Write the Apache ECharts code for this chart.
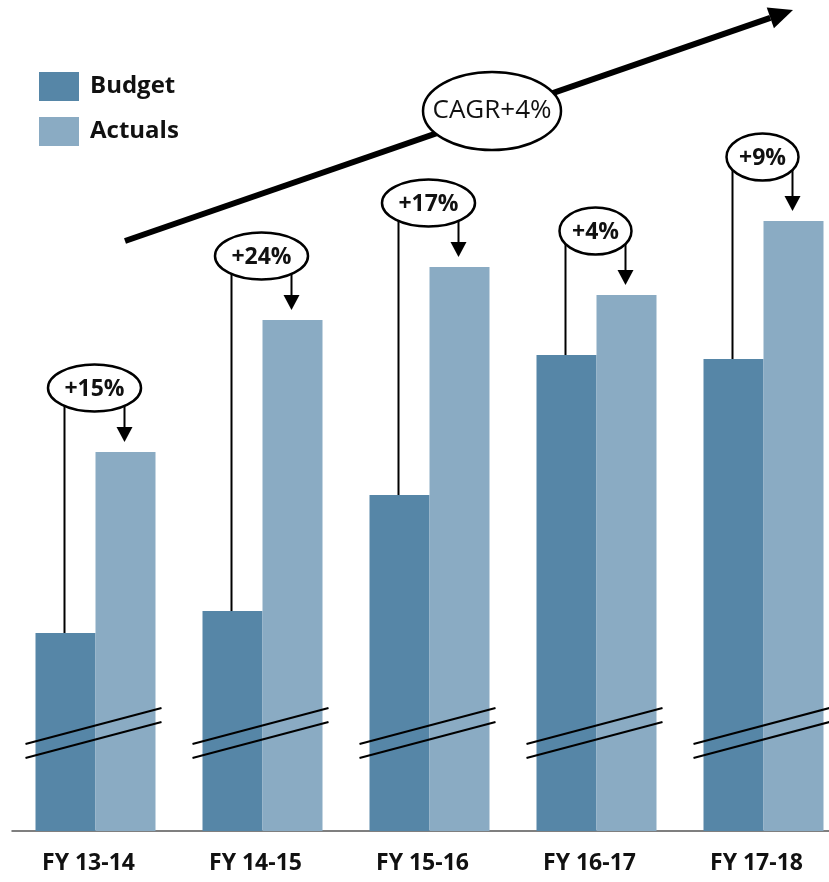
<!DOCTYPE html>
<html>
<head>
<meta charset="utf-8">
<script src="https://cdn.jsdelivr.net/npm/echarts@6/dist/echarts.min.js"></script>
<style>
    html, body { margin: 0; padding: 0; background: #fff; }
    #chart { width: 829px; height: 882px; }
</style>
</head>
<body>
<div id="chart"></div>
<script>
// values (axis is broken, so scale starts at 1000)
var categories = ['FY 13-14', 'FY 14-15', 'FY 15-16', 'FY 16-17', 'FY 17-18'];
var budget = [1198, 1220, 1336, 1476, 1472];
var actuals = [1379, 1511, 1564, 1536, 1610];
var growthLabels = ['+15%', '+24%', '+17%', '+4%', '+9%'];
var cagrLabel = 'CAGR+4%';

var FONT = '"Open Sans", Lato, sans-serif';
var BAR_W = 60;
var BREAK_VALUE = 1105;
var budgetColor = '#5686a7';
var actualColor = '#8aabc3';

var chart = echarts.init(document.getElementById('chart'));

var annotData = categories.map(function (c, i) {
    return [i, budget[i], actuals[i]];
});
var breakData = categories.map(function (c, i) {
    return [i, BREAK_VALUE];
});

function renderAnnot(params, api) {
    var i = api.value(0);
    var pB = api.coord([i, api.value(1)]);
    var pA = api.coord([i, api.value(2)]);
    var xB = pB[0] - BAR_W / 2 - 1;
    var xA = pA[0] + BAR_W / 2 - 1;
    var label = growthLabels[i];
    var rx = 10.5 * label.length + 4.5;
    var ry = 23.5;
    var cx = pA[0] - 1;
    var cy = pA[1] - 64;
    var tipY = pA[1] - 10;
    return {
        type: 'group',
        children: [
            { type: 'line', shape: { x1: xB, y1: pB[1], x2: xB, y2: cy },
              style: { stroke: '#000', lineWidth: 2 } },
            { type: 'line', shape: { x1: xA, y1: cy, x2: xA, y2: tipY - 14 },
              style: { stroke: '#000', lineWidth: 2 } },
            { type: 'polygon', shape: { points: [[xA - 8, tipY - 15], [xA + 8, tipY - 15], [xA, tipY]] },
              style: { fill: '#000' } },
            { type: 'ellipse', shape: { cx: cx, cy: cy, rx: rx, ry: ry },
              style: { fill: '#fff', stroke: '#000', lineWidth: 2.5 } },
            { type: 'text', x: cx, y: cy + 1,
              style: { text: label, fill: '#111', font: 'bold 23px ' + FONT, align: 'center', verticalAlign: 'middle' } }
        ]
    };
}

function renderBreak(params, api) {
    var p = api.coord([api.value(0), api.value(1)]);
    var x = p[0], y = p[1];
    var children = [0, 14].map(function (off) {
        return { type: 'line',
            shape: { x1: x - 70, y1: y + 18 + off, x2: x + 66, y2: y - 18 + off },
            style: { stroke: '#000', lineWidth: 2 } };
    });
    return { type: 'group', children: children };
}

// big trend arrow with CAGR ellipse
var ax1 = 125, ay1 = 241, ax2 = 793, ay2 = 10;
var ang = Math.atan2(ay2 - ay1, ax2 - ax1);
var headL = 24, headW = 11;
var bx = ax2 - headL * Math.cos(ang), by = ay2 - headL * Math.sin(ang);
var arrowHead = [
    [ax2, ay2],
    [bx + headW * Math.sin(ang), by - headW * Math.cos(ang)],
    [bx - headW * Math.sin(ang), by + headW * Math.cos(ang)]
];

chart.setOption({
    animation: false,
    textStyle: { fontFamily: FONT },
    grid: { left: 12, width: 835, top: 31, bottom: 51, containLabel: false, outerBoundsMode: 'none' },
    legend: {
        orient: 'vertical',
        left: 39, top: 72,
        padding: 0,
        itemWidth: 40, itemHeight: 29, itemGap: 16,
        icon: 'rect',
        data: ['Budget', 'Actuals'],
        textStyle: { fontSize: 24, fontWeight: 'bold', color: '#111', padding: [7, 0, 0, 6] }
    },
    xAxis: {
        type: 'category',
        data: categories,
        axisLine: { lineStyle: { color: '#555', width: 1.5 } },
        axisTick: { show: false },
        axisLabel: { fontSize: 23, fontWeight: 'bold', color: '#111', margin: 21, padding: [0, 14, 0, 0] }
    },
    yAxis: { type: 'value', min: 1000, max: 1800, show: false },
    graphic: [
        { type: 'line', shape: { x1: ax1, y1: ay1, x2: bx, y2: by },
          style: { stroke: '#000', lineWidth: 6 }, z: 10 },
        { type: 'polygon', shape: { points: arrowHead }, style: { fill: '#000' }, z: 10 },
        { type: 'ellipse', shape: { cx: 492, cy: 111, rx: 69, ry: 39 },
          style: { fill: '#fff', stroke: '#000', lineWidth: 2.5 }, z: 11 },
        { type: 'text', x: 492, y: 111, z: 12,
          style: { text: cagrLabel, fill: '#111', font: '26px ' + FONT, align: 'center', verticalAlign: 'middle' } }
    ],
    series: [
        { name: 'Budget', type: 'bar', data: budget, barWidth: BAR_W, barGap: '0%',
          itemStyle: { color: budgetColor }, clip: true },
        { name: 'Actuals', type: 'bar', data: actuals, barWidth: BAR_W, barGap: '0%',
          itemStyle: { color: actualColor }, clip: true },
        { type: 'custom', data: breakData, renderItem: renderBreak, clip: false, z: 5, silent: true },
        { type: 'custom', data: annotData, renderItem: renderAnnot, clip: false, z: 6, silent: true }
    ]
});
</script>
</body>
</html>
